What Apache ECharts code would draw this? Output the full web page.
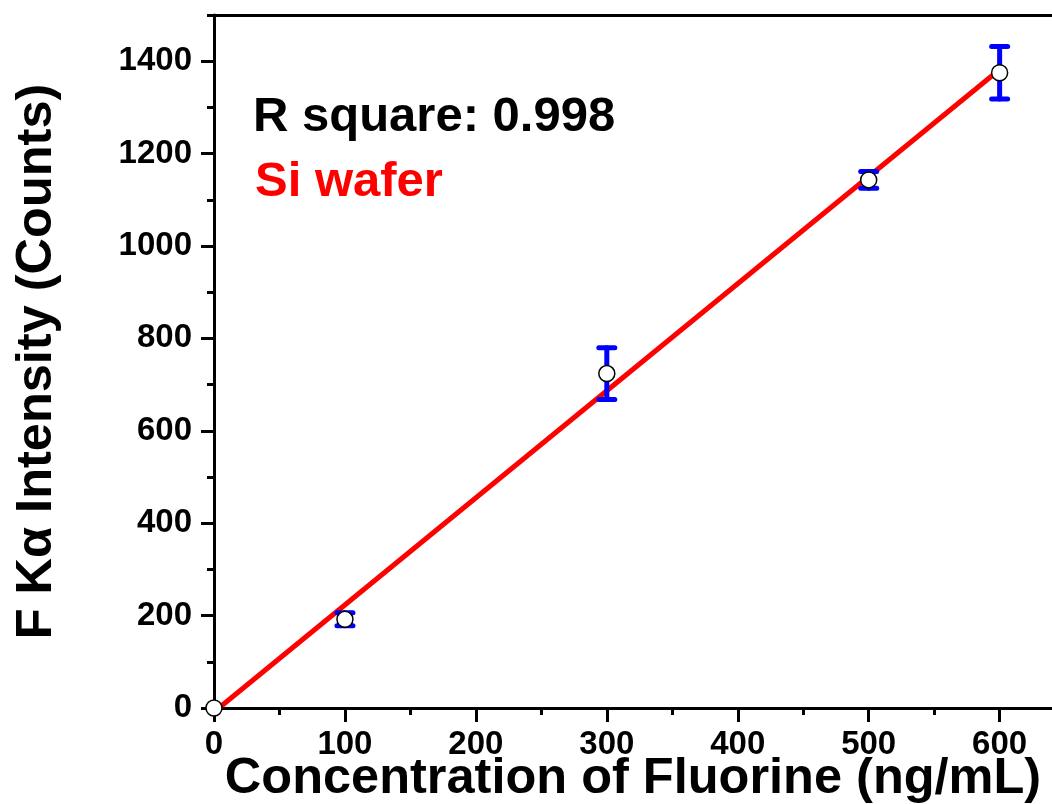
<!DOCTYPE html>
<html>
<head>
<meta charset="utf-8">
<script src="https://cdn.jsdelivr.net/npm/echarts@6/dist/echarts.min.js"></script>
<style>
html,body{margin:0;padding:0;background:#fff;}
#c{width:1052px;height:804px;}
</style>
</head>
<body>
<div id="c"></div>
<script>
// Data
var concentration = [0, 100, 300, 500, 600];
var intensity = [0, 192, 724, 1143, 1375];
var errors = [0, 14, 56, 18, 57];
var fitX = [3.7, 600];
var fitY = [0, 1382];
var xLabelTicks = [0, 100, 200, 300, 400, 500, 600];
var xMinorTicks = [50, 150, 250, 350, 450, 550];
var yLabelTicks = [0, 200, 400, 600, 800, 1000, 1200, 1400];
var yMinorTicks = [100, 300, 500, 700, 900, 1100, 1300, 1500];
var annotation1 = 'R square: 0.998';
var annotation2 = 'Si wafer';
var xTitle = 'Concentration of Fluorine (ng/mL)';
var yTitle = 'F K\u03b1 Intensity (Counts)';

var FONT = '"Liberation Sans", Arial, sans-serif';
var chart = echarts.init(document.getElementById('c'));

var pts = concentration.map(function (x, i) { return [x, intensity[i]]; });
var errData = concentration.map(function (x, i) { return [x, intensity[i], errors[i]]; });
var fitData = fitX.map(function (x, i) { return [x, fitY[i]]; });

var axisLine = { show: true, lineStyle: { color: '#000', width: 3 } };
var plain = function (v) { return String(v); };

var option = {
  animation: false,
  backgroundColor: '#fff',
  title: [
    { text: annotation1, left: 248, top: 88,
      textStyle: { fontFamily: FONT, fontWeight: 'bold', fontSize: 49, color: '#000' } },
    { text: annotation2, left: 250, top: 153,
      textStyle: { fontFamily: FONT, fontWeight: 'bold', fontSize: 49, color: '#ff0000' } }
  ],
  grid: { left: 214, top: 15, right: 0, bottom: 96, containLabel: false, outerBoundsMode: 'none' },
  xAxis: [
    { type: 'value', min: 0, max: 640, position: 'bottom',
      name: xTitle, nameLocation: 'middle', nameGap: 46, nameMoveOverlap: false,
      nameTextStyle: { fontFamily: FONT, fontWeight: 'bold', fontSize: 50.5, color: '#000' },
      axisLine: axisLine,
      axisTick: { show: true, inside: false, length: 14, lineStyle: { color: '#000', width: 3 }, customValues: xLabelTicks },
      axisLabel: { show: true, margin: 20, fontFamily: FONT, fontWeight: 'bold', fontSize: 33, color: '#000', customValues: xLabelTicks, formatter: plain },
      splitLine: { show: false } },
    { type: 'value', min: 0, max: 640, position: 'bottom',
      axisLine: { show: false },
      axisTick: { show: true, inside: false, length: 7, lineStyle: { color: '#000', width: 3 }, customValues: xMinorTicks },
      axisLabel: { show: false }, splitLine: { show: false } },
    { type: 'value', min: 0, max: 640, position: 'top',
      axisLine: axisLine, axisTick: { show: false }, axisLabel: { show: false }, splitLine: { show: false } }
  ],
  yAxis: [
    { type: 'value', min: 0, max: 1500, position: 'left',
      name: yTitle, nameLocation: 'middle', nameGap: 151, nameMoveOverlap: false,
      nameTextStyle: { fontFamily: FONT, fontWeight: 'bold', fontSize: 50.5, color: '#000' },
      axisLine: axisLine,
      axisTick: { show: true, inside: false, length: 13, lineStyle: { color: '#000', width: 3 }, customValues: yLabelTicks },
      axisLabel: { show: true, margin: 22, fontFamily: FONT, fontWeight: 'bold', fontSize: 33, color: '#000', customValues: yLabelTicks, formatter: plain },
      splitLine: { show: false } },
    { type: 'value', min: 0, max: 1500, position: 'left',
      axisLine: { show: false },
      axisTick: { show: true, inside: false, length: 7, lineStyle: { color: '#000', width: 3 }, customValues: yMinorTicks },
      axisLabel: { show: false }, splitLine: { show: false } }
  ],
  series: [
    { type: 'line', data: fitData, xAxisIndex: 0, yAxisIndex: 0, showSymbol: false, symbol: 'none',
      lineStyle: { color: '#ff0000', width: 5 }, z: 2 },
    { type: 'custom', data: errData, xAxisIndex: 0, yAxisIndex: 0, z: 3,
      renderItem: function (params, api) {
        var x = api.value(0), y = api.value(1), e = api.value(2);
        if (!e) return null;
        var top = api.coord([x, y + e]);
        var bot = api.coord([x, y - e]);
        var hw = 8;
        var st = { stroke: '#0000ff', lineWidth: 5, lineCap: 'round' };
        return { type: 'group', children: [
          { type: 'line', shape: { x1: top[0], y1: top[1], x2: bot[0], y2: bot[1] }, style: st },
          { type: 'line', shape: { x1: top[0] - hw, y1: top[1], x2: top[0] + hw, y2: top[1] }, style: st },
          { type: 'line', shape: { x1: bot[0] - hw, y1: bot[1], x2: bot[0] + hw, y2: bot[1] }, style: st }
        ] };
      } },
    { type: 'scatter', data: pts, xAxisIndex: 0, yAxisIndex: 0, symbol: 'circle', symbolSize: 16,
      itemStyle: { color: '#ffffff', borderColor: '#000', borderWidth: 1.5, opacity: 1 }, z: 4 }
  ]
};
chart.setOption(option);
</script>
</body>
</html>
